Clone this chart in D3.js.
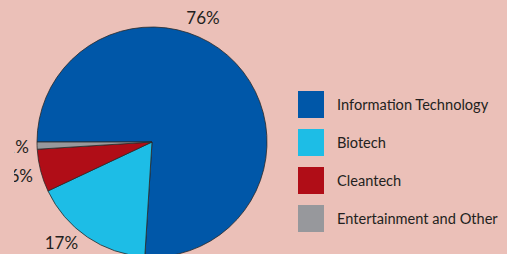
<!DOCTYPE html>
<meta charset="utf-8">
<script src="https://d3js.org/d3.v7.min.js"></script>
<style>
  body { margin: 0; background: #ebc0b8; }
  text { font-family: Lato, "Open Sans", sans-serif; fill: #231f20; }
</style>
<svg id="chart" width="507" height="254"></svg>
<script>

// data
var categories = ["Information Technology", "Biotech", "Cleantech", "Entertainment and Other"];
var shares = [76, 17, 6, 1];
var colors = ["#0057a8", "#1dbde6", "#b00d17", "#97989c"];

var svg = d3.select("#chart"),
    width = +svg.attr("width"),
    height = +svg.attr("height");

var cx = 152, cy = 142, radius = 115, labelRadius = 135;

var data = categories.map(function(c, i) { return { name: c, value: shares[i], color: colors[i] }; });

// pie starts at 9 o'clock, clockwise
var pie = d3.pie()
    .sort(null)
    .value(function(d) { return d.value; })
    .startAngle(-Math.PI / 2)
    .endAngle(3 * Math.PI / 2);

var arc = d3.arc().innerRadius(0).outerRadius(radius);

var arcs = pie(data);

// the original plot area is cut at the left, so labels get clipped there
svg.append("clipPath")
    .attr("id", "plotClip")
  .append("rect")
    .attr("x", 14)
    .attr("y", 0)
    .attr("width", width - 14)
    .attr("height", height);

var g = svg.append("g").attr("transform", "translate(" + cx + "," + cy + ")");

g.selectAll("path")
  .data(arcs)
  .enter()
  .append("path")
    .attr("d", arc)
    .attr("fill", function(d) { return d.data.color; })
    .attr("stroke", "#2a2a2a")
    .attr("stroke-width", 0.8)
    .attr("stroke-linejoin", "round");

// percentage labels outside the pie (nudged like the original for the two big slices)
var labelFrac = [0.41, 0.63, 0.5, 0.5];

function labelAngle(d, i) {
  return d.startAngle + labelFrac[i] * (d.endAngle - d.startAngle);
}

svg.append("g")
    .attr("clip-path", "url(#plotClip)")
  .append("g")
    .attr("transform", "translate(" + cx + "," + cy + ")")
  .selectAll("text.pct")
  .data(arcs)
  .enter()
  .append("text")
    .attr("class", "pct")
    .attr("x", function(d, i) { return labelRadius * Math.sin(labelAngle(d, i)); })
    .attr("y", function(d, i) { return -labelRadius * Math.cos(labelAngle(d, i)); })
    .attr("text-anchor", "middle")
    .attr("dominant-baseline", "central")
    .style("font-size", "17px")
    .text(function(d) { return d.data.value + "%"; });

// legend
var legendX = 298, legendY = 91, step = 38;

var legend = svg.append("g")
  .selectAll("g")
  .data(data)
  .enter()
  .append("g")
    .attr("transform", function(d, i) { return "translate(" + legendX + "," + (legendY + i * step) + ")"; });

legend.append("rect")
    .attr("width", 26)
    .attr("height", 27)
    .attr("fill", function(d) { return d.color; });

legend.append("text")
    .attr("x", 39)
    .attr("y", 18.5)
    .style("font-size", "14.6px")
    .text(function(d) { return d.name; });

</script>
